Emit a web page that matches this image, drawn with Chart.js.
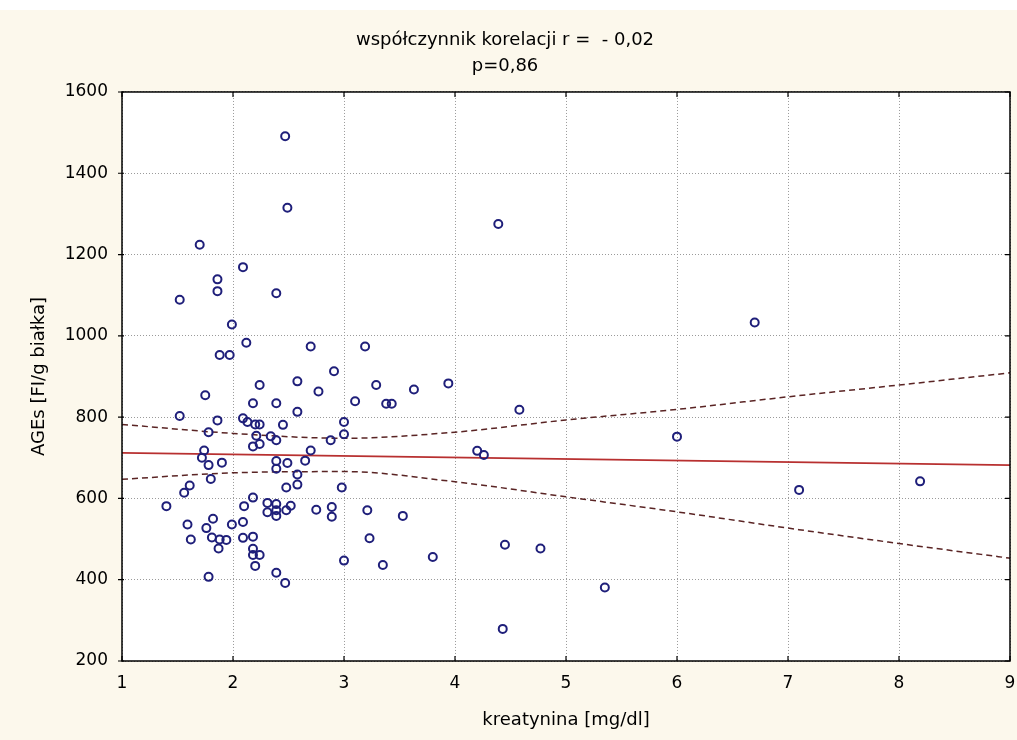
<!DOCTYPE html>
<html>
<head>
<meta charset="utf-8">
<script src="https://cdn.jsdelivr.net/npm/chart.js@4"></script>
<style>
  html, body { margin: 0; padding: 0; background: #fcf8ec; }
  #wrap { width: 1017px; height: 740px; }
</style>
</head>
<body>
<div id="wrap"><canvas id="scatter" width="1017" height="740"></canvas></div>
<script>
// kreatynina [mg/dl] vs AGEs [FI/g białka], one entry per patient
const kreatynina = [
  2.47, 2.49, 1.70, 2.09, 1.86, 1.86, 1.52, 2.39, 4.39, 6.70,
  1.99, 2.12, 1.88, 1.97, 2.70, 3.19, 2.91, 2.24, 2.58, 3.29,
  3.63, 3.94, 2.77, 1.75, 2.18, 2.39, 3.10, 3.38, 3.43, 4.58,
  2.58, 1.52, 1.86, 2.09, 2.13, 2.20, 2.24, 2.45, 3.00, 3.00,
  1.78, 2.21, 2.34, 2.39, 2.24, 2.18, 2.88, 6.00, 2.70, 4.20,
  4.26, 2.65, 1.74, 1.72, 1.78, 1.90, 2.39, 2.49, 2.39, 2.58,
  2.58, 2.48, 1.80, 1.61, 1.56, 1.40, 2.98, 7.10, 8.19, 2.18,
  2.10, 2.31, 2.39, 2.52, 2.31, 2.39, 2.39, 2.48, 2.75, 2.89,
  2.89, 3.21, 3.53, 1.59, 1.82, 1.76, 1.99, 2.09, 1.62, 1.81,
  1.88, 1.94, 1.87, 2.09, 2.18, 2.18, 2.18, 2.24, 2.20, 2.39,
  2.47, 1.78, 3.23, 3.00, 3.35, 3.80, 4.45, 4.77, 5.35, 4.43
];
const ages = [
  1491, 1315, 1224, 1169, 1139, 1110, 1089, 1105, 1275, 1033,
  1028, 983, 953, 953, 974, 974, 913, 879, 888, 879,
  868, 883, 863, 854, 834, 834, 839, 833, 833, 818,
  813, 803, 792, 797, 788, 782, 782, 781, 788, 758,
  763, 754, 753, 743, 734, 728, 743, 752, 718, 717,
  707, 693, 718, 700, 682, 688, 692, 687, 673, 659,
  634, 627, 648, 632, 614, 581, 627, 621, 642, 602,
  581, 589, 586, 582, 566, 571, 557, 571, 572, 579,
  555, 571, 557, 536, 550, 527, 536, 542, 499, 504,
  499, 498, 477, 503, 506, 476, 461, 461, 434, 417,
  392, 407, 502, 447, 436, 456, 486, 477, 381, 279
];

// fitted line and its 95% band
const fitX = [1, 9];
const fitY = [712, 682];
const bandX = [1, 2, 3, 4, 5, 6, 7, 8, 9];
const bandUpper = [782, 760, 748, 763, 793, 819, 850, 879, 909];
const bandLower = [647, 663, 666, 641, 604, 567, 527, 489, 453];

const xTicks = [1, 2, 3, 4, 5, 6, 7, 8, 9];
const yTicks = [200, 400, 600, 800, 1000, 1200, 1400, 1600];

const titleLines = ['współczynnik korelacji r =  - 0,02', 'p=0,86'];
const xTitle = 'kreatynina [mg/dl]';
const yTitle = 'AGEs [FI/g białka]';

const pts = (xs, ys) => xs.map((x, i) => ({ x: x, y: ys[i] }));

// cream page, white plot area, black frame with short tick marks
const framePlugin = {
  id: 'frame',
  beforeDraw(chart) {
    const { ctx, chartArea: a } = chart;
    ctx.save();
    ctx.fillStyle = '#ffffff';
    ctx.fillRect(0, 0, chart.width, 10);
    ctx.fillStyle = '#fcf8ec';
    ctx.fillRect(0, 10, chart.width, chart.height - 10);
    ctx.fillStyle = '#ffffff';
    ctx.fillRect(a.left, a.top, a.right - a.left, a.bottom - a.top);
    ctx.restore();
  },
  afterDatasetsDraw(chart) {
    const { ctx, chartArea: a, scales } = chart;
    ctx.save();
    ctx.strokeStyle = '#000000';
    ctx.lineWidth = 1.5;
    ctx.strokeRect(a.left, a.top, a.right - a.left, a.bottom - a.top);
    ctx.lineWidth = 1.2;
    ctx.beginPath();
    xTicks.forEach(v => {
      const px = scales.x.getPixelForValue(v);
      ctx.moveTo(px, a.top); ctx.lineTo(px, a.top + 5);
      ctx.moveTo(px, a.bottom); ctx.lineTo(px, a.bottom - 5);
    });
    yTicks.forEach(v => {
      const py = scales.y.getPixelForValue(v);
      ctx.moveTo(a.left - 4, py); ctx.lineTo(a.left + 2, py);
      ctx.moveTo(a.right, py); ctx.lineTo(a.right - 5, py);
    });
    ctx.stroke();
    ctx.restore();
  }
};

const font = 'DejaVu Sans';

new Chart(document.getElementById('scatter').getContext('2d'), {
  type: 'scatter',
  data: {
    datasets: [
      {
        data: pts(kreatynina, ages),
        pointStyle: 'circle',
        pointRadius: 4,
        pointBorderWidth: 2,
        pointBorderColor: '#1f1f7a',
        pointBackgroundColor: 'rgba(0,0,0,0)',
        order: 0
      },
      {
        type: 'line',
        data: pts(fitX, fitY),
        borderColor: '#b83030',
        borderWidth: 1.6,
        pointRadius: 0,
        order: 1
      },
      {
        type: 'line',
        data: pts(bandX, bandUpper),
        borderColor: '#5a2424',
        borderWidth: 1.5,
        borderDash: [6, 4],
        cubicInterpolationMode: 'monotone',
        pointRadius: 0,
        order: 1
      },
      {
        type: 'line',
        data: pts(bandX, bandLower),
        borderColor: '#5a2424',
        borderWidth: 1.5,
        borderDash: [6, 4],
        cubicInterpolationMode: 'monotone',
        pointRadius: 0,
        order: 1
      }
    ]
  },
  options: {
    responsive: false,
    animation: false,
    layout: { padding: { left: 0, right: 7, top: 0, bottom: 0 } },
    plugins: {
      legend: { display: false },
      tooltip: { enabled: false },
      title: {
        display: true,
        text: titleLines,
        color: '#000000',
        font: { family: font, size: 18, weight: 'normal', lineHeight: 1.444 },
        padding: { top: 27, bottom: 13 }
      }
    },
    scales: {
      x: {
        type: 'linear',
        min: 1,
        max: 9,
        afterFit: s => { s.height = 79; s.paddingLeft = 0; s.paddingRight = 0; },
        afterBuildTicks: s => { s.ticks = xTicks.map(v => ({ value: v })); },
        ticks: {
          color: '#000000',
          padding: 12,
          font: { family: font, size: 17 },
          callback: v => String(v)
        },
        grid: { color: '#9a9a9a', lineWidth: 1, drawTicks: false },
        border: { display: false, dash: [1, 2] },
        title: {
          display: true,
          text: xTitle,
          color: '#000000',
          font: { family: font, size: 18 },
          padding: { top: 0, bottom: 9 }
        }
      },
      y: {
        type: 'linear',
        min: 200,
        max: 1600,
        afterFit: s => { s.width = 122; s.paddingTop = 0; s.paddingBottom = 0; },
        afterBuildTicks: s => { s.ticks = yTicks.map(v => ({ value: v })); },
        ticks: {
          color: '#000000',
          padding: 14,
          font: { family: font, size: 17 },
          callback: v => String(v)
        },
        grid: { color: '#9a9a9a', lineWidth: 1, drawTicks: false },
        border: { display: false, dash: [1, 2] },
        title: {
          display: true,
          text: yTitle,
          color: '#000000',
          font: { family: font, size: 18 },
          padding: { top: 29, bottom: 0 }
        }
      }
    }
  },
  plugins: [framePlugin]
});
</script>
</body>
</html>
